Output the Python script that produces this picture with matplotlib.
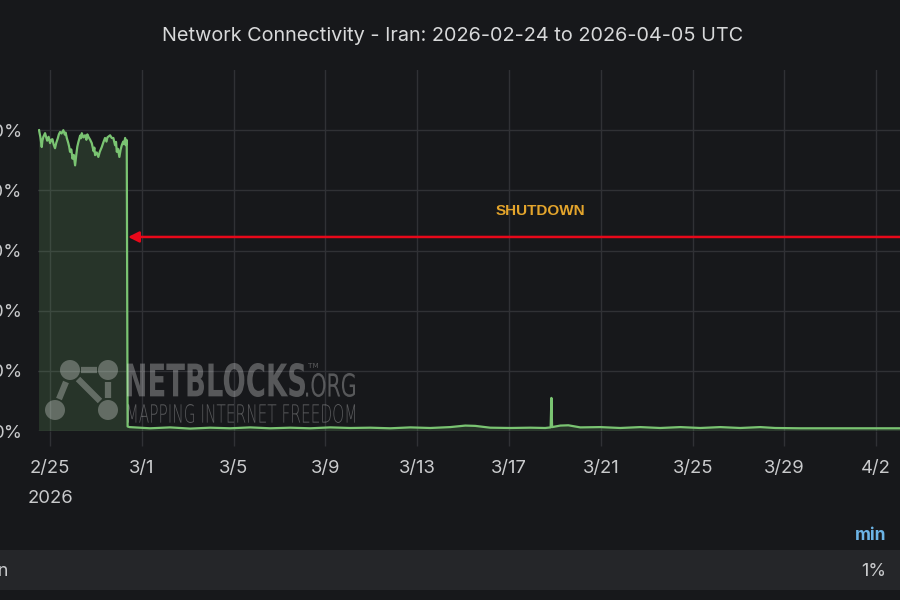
import matplotlib
matplotlib.use("Agg")
import matplotlib.pyplot as plt
import numpy as np
import pandas as pd
from matplotlib.patches import Circle, PathPatch, Rectangle
from matplotlib.textpath import TextPath
from matplotlib.font_manager import FontProperties
from matplotlib.transforms import Affine2D

# hours since 2026-02-24 00:00 UTC, connectivity in %
hours = [12.5, 13.2, 14.0, 15.3, 16.0, 17.0, 18.8, 20.0, 21.0, 22.5, 24.0, 25.2,
         26.5, 27.8, 29.2, 30.5, 32.0, 33.2, 34.5, 36.0, 37.9,
         39.5, 40.3, 41.5, 43.0, 44.0, 44.9, 46.2, 47.5, 48.8, 50.2, 51.5, 52.5,
         53.6, 55.5, 56.3, 57.2, 58.8, 60.6, 62.0, 63.0,
         64.1, 65.8, 67.6, 69.5, 70.3, 71.1, 72.8, 74.5, 76.0, 78.1, 79.8, 81.5,
         83.0, 84.0, 86.8, 88.5, 90.2, 92.0, 93.0,
         93.8, 95.0, 96.5, 97.8, 99.0, 100.5, 101.5, 102.5, 103.4, 104.2,
         105.1, 107.0, 128.6, 149.5, 170.5, 191.4, 212.3, 233.3, 254.2, 275.1,
         296.0, 317.0, 337.9, 358.8, 379.7, 400.7, 421.6, 442.5, 458.2, 468.6,
         484.3, 505.2, 526.1, 541.8, 547.5, 548.3, 549.0, 557.6, 566.0, 578.5,
         599.4, 620.3, 641.2, 662.1, 683.1, 704.0, 724.9, 745.8, 766.7, 782.4,
         808.8, 861.0, 920.0, 971.0]
values = [100.0, 98.8, 97.5, 94.4, 96.5, 97.8, 99.0, 97.6, 96.5, 97.8, 95.7, 96.8,
          97.0, 95.2, 94.0, 95.8, 97.2, 98.6, 99.4, 98.9, 100.0,
          98.5, 99.2, 97.4, 95.8, 94.5, 92.8, 93.6, 90.5, 91.8, 88.3, 92.0, 94.5,
          96.0, 98.2, 97.3, 99.0, 97.6, 98.3, 96.8, 98.6,
          97.8, 96.9, 95.7, 93.0, 94.2, 91.7, 92.6, 91.1, 92.8, 94.4, 96.0, 97.4,
          96.2, 97.6, 98.3, 97.4, 97.4, 95.0, 96.1,
          92.8, 93.8, 91.1, 93.5, 95.0, 96.2, 95.3, 97.4, 95.0, 96.7,
          1.5, 1.3, 0.9, 1.2, 0.8, 1.1, 0.9, 1.2, 0.9, 1.1,
          0.9, 1.2, 1.0, 1.1, 0.9, 1.2, 1.0, 1.3, 1.8, 1.7,
          1.1, 1.0, 1.1, 1.0, 1.2, 11.0, 1.3, 1.8, 1.9, 1.2,
          1.3, 1.0, 1.3, 1.0, 1.3, 1.0, 1.3, 1.0, 1.3, 1.0,
          0.9, 0.9, 0.9, 0.9]

t0 = pd.Timestamp("2026-02-24 00:00")
times = t0 + pd.to_timedelta(hours, unit="h")

x_start = t0 + pd.Timedelta(hours=11.4)
x_end = x_start + pd.Timedelta(days=40)
tick_dates = pd.date_range("2026-02-25", periods=10, freq="4D")
tick_labels = ["2/25\n2026"] + [f"{d.month}/{d.day}" for d in tick_dates[1:]]
y_ticks = [0, 20, 40, 60, 80, 100]

arrow_time = t0 + pd.Timedelta(hours=105.6)
arrow_level = 64.5
note_time = t0 + pd.Timedelta(hours=536.6)
note_level = 73.0

series_name = "Iran"
series_min = "1%"

bg = "#17181b"
grid_col = "#303135"
text_col = "#c9cacc"
green = "#7ac472"

plt.rcParams["font.family"] = ["Inter", "DejaVu Sans"]

fig = plt.figure(figsize=(9, 6), dpi=100, facecolor=bg)
W, H = 900, 600
# plot area in pixels: left 38, right ~956 (cut off by the frame), top 70, bottom 431
ax = fig.add_axes([38 / W, (H - 431) / H, (956 - 38) / W, (431 - 70) / H])
ax.set_facecolor(bg)

ax.plot(times, values, color=green, lw=1.6, zorder=3)
ax.fill_between(times, values, 0, color=green, alpha=0.17, lw=0, zorder=2)

ax.set_xlim(x_start, x_end)
ax.set_ylim(0, 120)
ax.set_yticks(y_ticks)
ax.set_yticklabels([f"{v}%" for v in y_ticks])
ax.set_xticks(tick_dates)
ax.set_xticklabels(tick_labels, linespacing=1.95, va="top")

ax.grid(True, color=grid_col, lw=1.0)
for s in ax.spines.values():
    s.set_visible(False)
ax.tick_params(axis="x", colors=text_col, labelsize=13.3, length=11, width=1.0,
               color=grid_col, pad=10)
ax.tick_params(axis="y", colors=text_col, labelsize=13.3, length=0, pad=11)

ax.annotate("", xy=(arrow_time, arrow_level), xytext=(x_end, arrow_level),
            arrowprops=dict(arrowstyle="-|>", color="#e8081a", lw=1.8,
                            mutation_scale=16, shrinkA=0, shrinkB=0), zorder=6)
ax.text(note_time, note_level, "SHUTDOWN", color="#e3a42c", fontsize=11,
        fontweight="bold", family="Liberation Sans", ha="center", va="center")

fig.text(453 / W, 1 - 36 / H, "Network Connectivity - Iran: 2026-02-24 to 2026-04-05 UTC",
         color="#d8d9da", fontsize=14.3, ha="center", va="center")

# overlay in pixel coordinates for watermark and legend table
ov = fig.add_axes([0, 0, 1, 1], zorder=5)
ov.set_xlim(0, W)
ov.set_ylim(H, 0)
ov.axis("off")
ov.patch.set_alpha(0)

wm = dict(color="#ffffff", alpha=0.28, lw=0)
for cx, cy in [(70, 370), (108, 370), (55, 410), (108, 410)]:
    ov.add_patch(Circle((cx, cy), 10, **wm))
for (x1, y1), (x2, y2) in [((81, 370), (97, 370)), ((66, 382), (59, 399)),
                           ((78, 379), (100, 401)), ((108, 382), (108, 398))]:
    ov.plot([x1, x2], [y1, y2], color="#ffffff", alpha=0.28, lw=4.5, solid_capstyle="butt")


def cond_text(s, x, y, height, width, weight="bold"):
    fp = FontProperties(family="DejaVu Sans", weight=weight)
    tp = TextPath((0, 0), s, size=100, prop=fp)
    ext = tp.get_extents()
    sx = width / ext.width
    sy = height / ext.height
    tr = Affine2D().translate(-ext.x0, -ext.y0).scale(sx, -sy).translate(x, y)
    ov.add_patch(PathPatch(tr.transform_path(tp), **wm))


cond_text("NETBLOCKS", 127, 397, 34, 178)
cond_text(".ORG", 306, 397, 24, 49, weight="normal")
cond_text("TM", 308, 368, 5, 10, weight="normal")
cond_text("MAPPING INTERNET FREEDOM", 128, 423, 19, 227, weight="light")

ov.add_patch(Rectangle((0, 550), W, 40, color="#252629", lw=0, zorder=1))
ov.text(9, 572, series_name, color=text_col, fontsize=13, ha="right", va="center")
ov.text(886, 572, series_min, color=text_col, fontsize=13, ha="right", va="center")
ov.text(886, 535, "min", color="#6cb4e6", fontsize=12.5, fontweight="bold",
        ha="right", va="center")

fig.savefig("out.png", dpi=100, facecolor=bg)
